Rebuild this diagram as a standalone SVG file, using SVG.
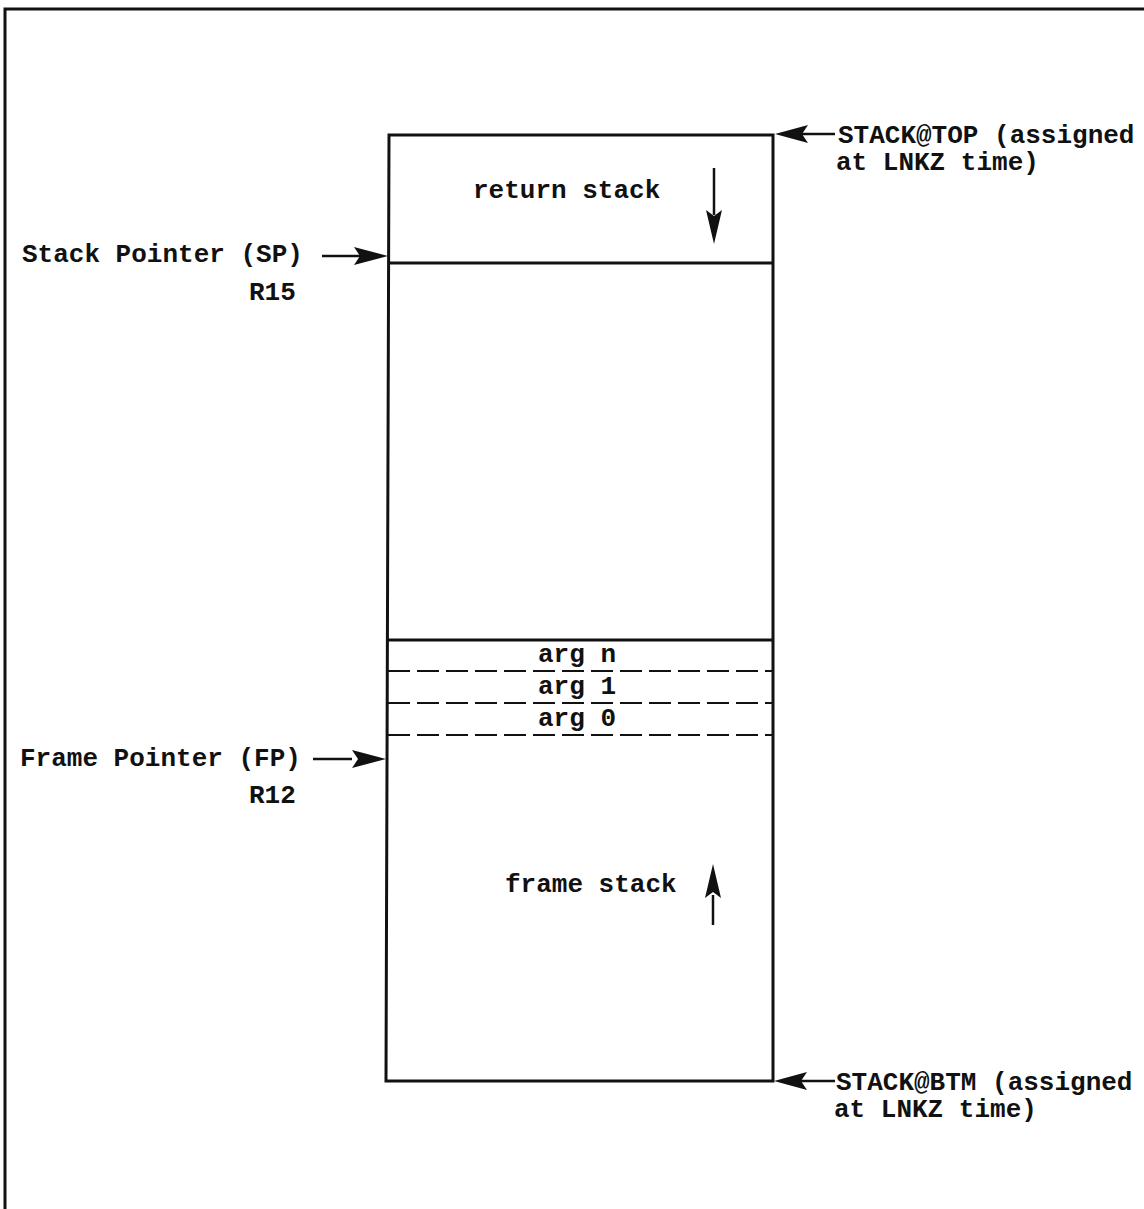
<svg xmlns="http://www.w3.org/2000/svg" width="1144" height="1209" viewBox="0 0 1144 1209">
<style>
text{font-family:"Liberation Mono","DejaVu Sans Mono",monospace;font-size:26px;fill:#111;font-weight:bold}
.ln{stroke:#111;stroke-width:3;fill:none}
.dash{stroke:#111;stroke-width:2;stroke-dasharray:22 7;fill:none}
.arr{stroke:#111;stroke-width:2.5;fill:none}
.head{fill:#111;stroke:none}
</style>
<rect width="1144" height="1209" fill="#fff"/>
<g id="frame">
<path class="ln" d="M1144,9 L5,9 L5,1209" stroke-width="2"/>
</g>
<g id="stack">
<path class="ln" d="M389,135 L773,135 L773,1081 L386,1081 Z"/>
<line class="ln" x1="389" y1="263" x2="773" y2="263"/>
<line class="ln" x1="388" y1="640" x2="773" y2="640"/>
<line class="dash" x1="388" y1="671" x2="773" y2="671"/>
<line class="dash" x1="388" y1="703" x2="773" y2="703"/>
<line class="dash" x1="388" y1="735" x2="773" y2="735"/>
<text x="473" y="198">return stack</text>
<text x="505" y="892">frame stack</text>
<text x="538" y="662">arg n</text>
<text x="538" y="694">arg 1</text>
<text x="538" y="726">arg 0</text>
</g>
<g id="sp-label">
<text x="22" y="262">Stack Pointer (SP)</text>
<text x="249" y="300">R15</text>
</g>
<g id="fp-label">
<text x="20" y="766">Frame Pointer (FP)</text>
<text x="249" y="803">R12</text>
</g>
<g id="top-label">
<text x="838" y="143">STACK@TOP (assigned</text>
<text x="836" y="170">at LNKZ time)</text>
</g>
<g id="btm-label">
<text x="836" y="1090">STACK@BTM (assigned</text>
<text x="834" y="1117">at LNKZ time)</text>
</g>
<g id="connectors">
<line class="arr" x1="322" y1="256" x2="360" y2="256"/>
<path class="head" d="M388,256 L354,247 L360,256 L354,265 Z"/>
<line class="arr" x1="313" y1="759" x2="352" y2="759"/>
<path class="head" d="M386,759 L352,750 L358,759 L352,768 Z"/>
<line class="arr" x1="835" y1="134" x2="800" y2="134"/>
<path class="head" d="M775,134 L808,125 L802,134 L808,143 Z"/>
<line class="arr" x1="835" y1="1081" x2="800" y2="1081"/>
<path class="head" d="M774,1081 L807,1072 L801,1081 L807,1090 Z"/>
<line class="arr" x1="714" y1="168" x2="714" y2="215"/>
<path class="head" d="M714,244 L706,210 L714,216 L722,210 Z"/>
<line class="arr" x1="713" y1="925" x2="713" y2="895"/>
<path class="head" d="M713,864 L705,898 L713,892 L721,898 Z"/>
</g>
</svg>
